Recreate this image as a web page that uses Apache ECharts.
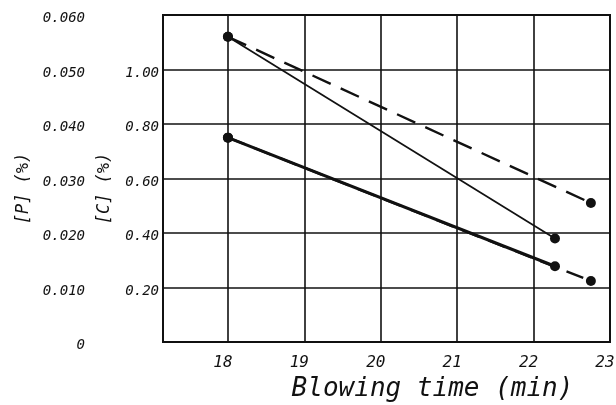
<!DOCTYPE html>
<html>
<head>
<meta charset="utf-8">
<script src="https://cdn.jsdelivr.net/npm/echarts@6/dist/echarts.min.js"></script>
<style>
  html, body { margin: 0; padding: 0; background: #fff; }
  #chart { width: 616px; height: 405px; }
</style>
</head>
<body>
<div id="chart"></div>
<script>
// blowing time ticks (min)
const timeTicks = [18, 19, 20, 21, 22, 23];

// [C] (%) lines
const cSolidTime = [18, 22.28];
const cSolid = [1.12, 0.38];
const cDashTime = [18, 22.75];
const cDash = [1.12, 0.51];

// [P] (%) lines
const pSolidTime = [18, 22.28];
const pSolid = [0.0375, 0.0139];
const pDashTime = [18, 22.75];
const pDash = [0.0375, 0.0112];

const pairs = (xs, ys) => xs.map((x, i) => [x, ys[i]]);

// lettering-stencil look
const font = 'DejaVu Sans Mono';
const ink = '#111';

// labels sit a little below / left of their grid lines in the scan
const yLabelRich = { d: { padding: [7, 0, 0, 0] } };
const xLabelRich = { d: { padding: [2, 10, 0, 0] } };

let myChart = echarts.init(document.getElementById('chart'));

let option = {
    animation: false,
    backgroundColor: '#fff',
    grid: {
        left: 163,
        right: 6,
        top: 15,
        bottom: 63,
        outerBoundsMode: 'none',
        show: true,
        borderColor: ink,
        borderWidth: 2
    },
    xAxis: {
        type: 'value',
        min: 17.15,
        max: 23,
        name: 'Blowing time (min)',
        nameLocation: 'middle',
        nameGap: 27,
        nameTextStyle: {
            fontFamily: font,
            fontStyle: 'italic',
            fontSize: 26,
            color: ink,
            padding: [0, 0, 0, 92]
        },
        axisLine: { show: false },
        axisTick: { show: false, customValues: timeTicks },
        axisLabel: {
            customValues: timeTicks,
            margin: 11,
            fontFamily: font,
            fontStyle: 'italic',
            fontSize: 16,
            color: ink,
            rich: xLabelRich,
            formatter: function (v) {
                return '{d|' + v + '}';
            }
        },
        splitLine: { show: true, lineStyle: { color: ink, width: 1.6 } }
    },
    yAxis: [
        {
            type: 'value',
            position: 'left',
            min: 0,
            max: 1.2,
            interval: 0.2,
            name: '[C] (%)',
            nameLocation: 'middle',
            nameGap: 50,
            nameTextStyle: {
                fontFamily: font,
                fontStyle: 'italic',
                fontSize: 17,
                color: ink,
                padding: [0, 0, 0, -20]
            },
            axisLine: { show: false },
            axisTick: { show: false },
            axisLabel: {
                margin: 4,
                fontFamily: font,
                fontStyle: 'italic',
                fontSize: 14,
                color: ink,
                rich: yLabelRich,
                formatter: function (v) {
                    if (v <= 0 || v >= 1.19) return '';
                    return '{d|' + v.toFixed(2) + '}';
                }
            },
            splitLine: { show: true, lineStyle: { color: ink, width: 1.6 } }
        },
        {
            type: 'value',
            position: 'left',
            offset: 70,
            min: 0,
            max: 0.06,
            interval: 0.01,
            name: '[P] (%)',
            nameLocation: 'middle',
            nameGap: 50,
            nameTextStyle: {
                fontFamily: font,
                fontStyle: 'italic',
                fontSize: 17,
                color: ink,
                padding: [0, 0, 0, -20]
            },
            axisLine: { show: false },
            axisTick: { show: false },
            axisLabel: {
                margin: 8,
                fontFamily: font,
                fontStyle: 'italic',
                fontSize: 14,
                color: ink,
                rich: yLabelRich,
                formatter: function (v) {
                    if (v === 0) return '{d|0}';
                    return '{d|' + v.toFixed(3) + '}';
                }
            },
            splitLine: { show: false }
        }
    ],
    series: [
        {
            name: 'C solid',
            type: 'line',
            yAxisIndex: 0,
            data: pairs(cSolidTime, cSolid),
            symbol: 'circle',
            symbolSize: 10,
            itemStyle: { color: ink },
            lineStyle: { color: ink, width: 1.7 }
        },
        {
            name: 'C dashed',
            type: 'line',
            yAxisIndex: 0,
            data: pairs(cDashTime, cDash),
            symbol: 'circle',
            symbolSize: 10,
            itemStyle: { color: ink },
            lineStyle: { color: ink, width: 2.4, type: [20, 11] }
        },
        {
            name: 'P solid',
            type: 'line',
            yAxisIndex: 1,
            data: pairs(pSolidTime, pSolid),
            symbol: 'circle',
            symbolSize: 10,
            itemStyle: { color: ink },
            lineStyle: { color: ink, width: 3 }
        },
        {
            name: 'P dashed',
            type: 'line',
            yAxisIndex: 1,
            data: pairs(pDashTime, pDash),
            symbol: 'circle',
            symbolSize: 10,
            itemStyle: { color: ink },
            lineStyle: { color: ink, width: 2.4, type: [18, 10] }
        }
    ]
};

option && myChart.setOption(option);
</script>
</body>
</html>
